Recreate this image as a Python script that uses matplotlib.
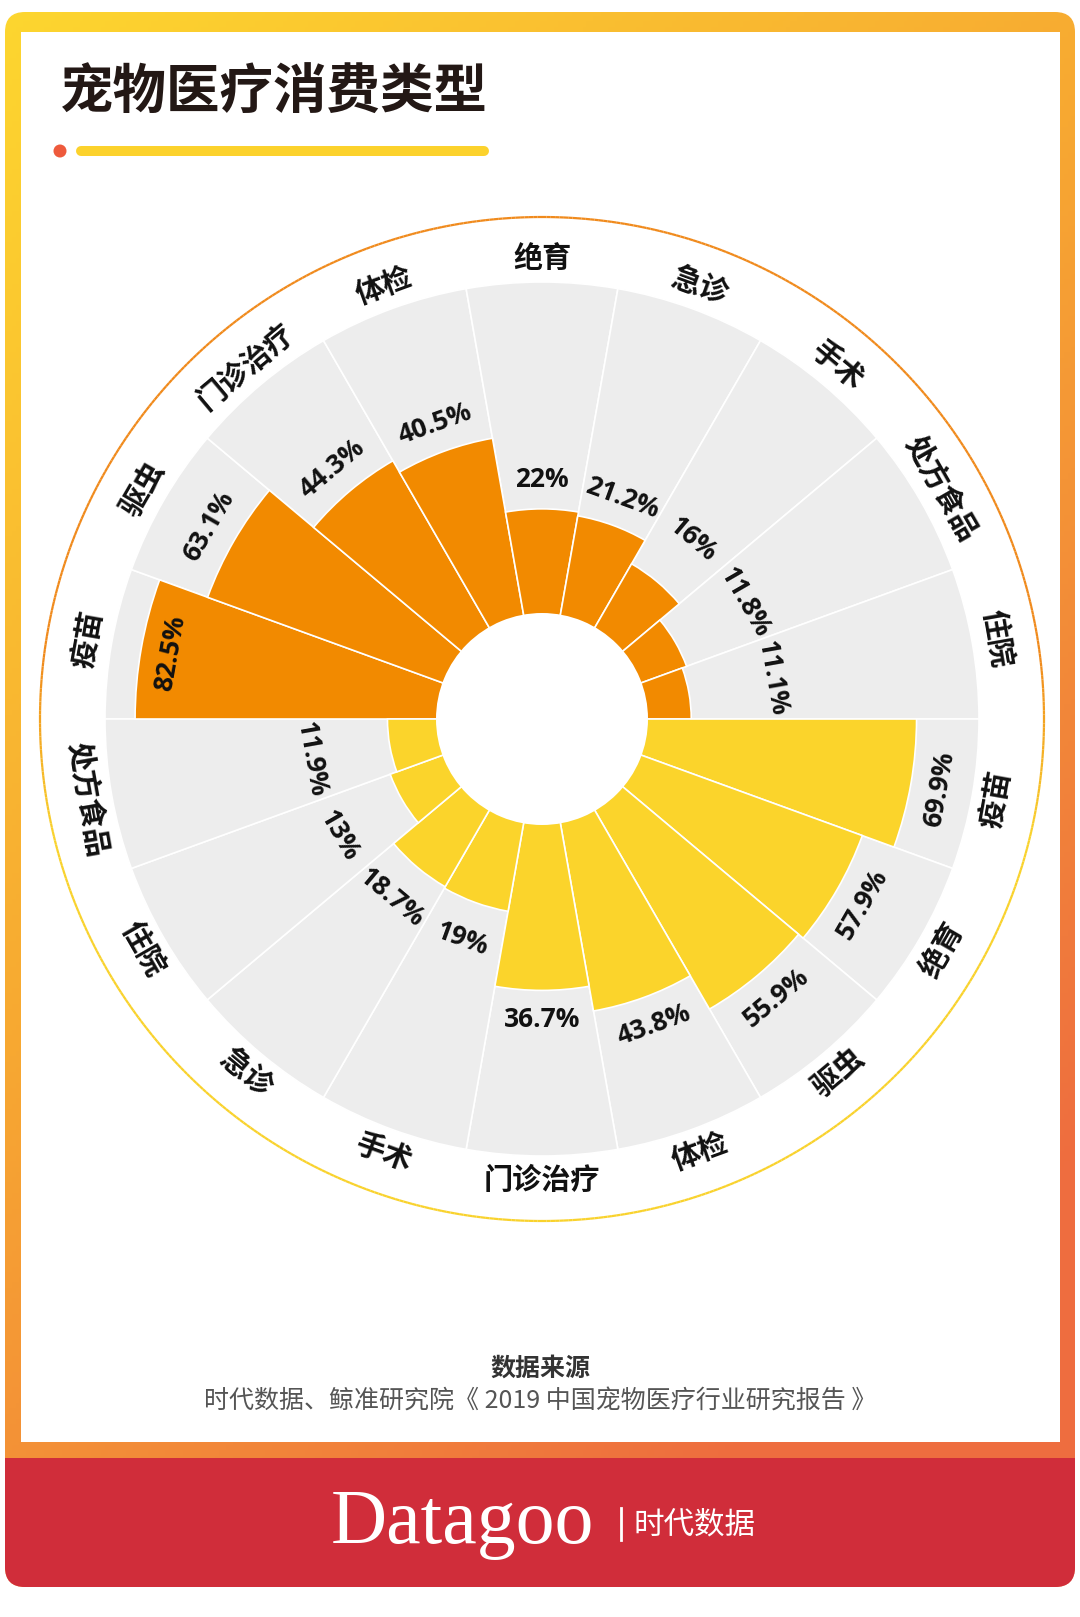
import numpy as np
import matplotlib.pyplot as plt
import matplotlib.colors as mcolors
from matplotlib.patches import FancyBboxPatch, Rectangle, Circle
from matplotlib.collections import LineCollection

plt.rcParams['font.family'] = ['Noto Sans CJK SC', 'DejaVu Sans']

# ---- data ----
dog_items = ["疫苗", "驱虫", "门诊治疗", "体检", "绝育", "急诊", "手术", "处方食品", "住院"]
dog_values = [82.5, 63.1, 44.3, 40.5, 22, 21.2, 16, 11.8, 11.1]
cat_items = ["疫苗", "绝育", "驱虫", "体检", "门诊治疗", "手术", "急诊", "住院", "处方食品"]
cat_values = [69.9, 57.9, 55.9, 43.8, 36.7, 19, 18.7, 13, 11.9]

title = "宠物医疗消费类型"
center_labels = ["宠物狗", "宠物猫"]
source_head = "数据来源"
source_text = "时代数据、鲸准研究院《 2019 中国宠物医疗行业研究报告 》"

# ---- styling ----
DOG = "#F28A00"
CAT = "#FBD42B"
GRAY = "#EDEDED"

W, H = 1080, 1617
fig = plt.figure(figsize=(W / 100, H / 100), dpi=100)
fig.patch.set_facecolor('white')

# background layer in pixel coordinates
bg = fig.add_axes([0, 0, 1, 1])
bg.set_xlim(0, W)
bg.set_ylim(H, 0)
bg.axis('off')

# gradient frame
fx0, fy0, fx1, fy1, rr = 5, 12, 1075, 1587, 20
frame = FancyBboxPatch((fx0 + rr, fy0 + rr), fx1 - fx0 - 2 * rr, fy1 - fy0 - 2 * rr,
                       boxstyle=f"round,pad={rr}", facecolor='none', edgecolor='none')
bg.add_patch(frame)
gx, gy = np.meshgrid(np.linspace(0, 1, 300), np.linspace(0, 1, 300))
grad = np.clip(0.45 * gx + 0.75 * gy, 0, 1)
cmap = mcolors.LinearSegmentedColormap.from_list("frame", ["#FDD62F", "#F7A832", "#EE6D3F"])
im = bg.imshow(grad, cmap=cmap, extent=(fx0, fx1, fy1, fy0), origin='upper',
               aspect='auto', zorder=0)
im.set_clip_path(frame)

red = Rectangle((fx0, 1458), fx1 - fx0, fy1 - 1458, facecolor="#D02D3A", edgecolor='none', zorder=1)
bg.add_patch(red)
red.set_clip_path(frame)

bg.add_patch(Rectangle((21, 32), 1039, 1410, facecolor='white', edgecolor='none', zorder=1))

# title and underline
bg.text(60, 93, title, fontsize=38.5, fontweight='black', color='#231815',
        ha='left', va='center', zorder=2)
bg.add_patch(Circle((60, 151), 6.5, facecolor='#EE5A3C', edgecolor='none', zorder=2))
bg.plot([81, 484], [151, 151], color='#FCD22C', linewidth=7.2, solid_capstyle='round', zorder=2)

# footer
bg.text(540, 1369, source_head, fontsize=18, fontweight='bold', color='#333333',
        ha='center', va='center', zorder=2)
bg.text(540, 1402, source_text, fontsize=18, color='#555555',
        ha='center', va='center', zorder=2)
bg.text(462, 1524, "Datagoo", family=['Liberation Serif', 'DejaVu Serif'], fontsize=56,
        color='white', ha='center', va='center', zorder=2)
bg.plot([621, 621], [1508, 1540], color='white', linewidth=2, zorder=2)
bg.text(695, 1525, "时代数据", fontsize=22, fontweight='light', color='white',
        ha='center', va='center', zorder=2)

# center labels
bg.text(540, 681, center_labels[0], fontsize=20, fontweight='bold', color=DOG,
        ha='center', va='center', zorder=10)
bg.text(540, 761, center_labels[1], fontsize=20, fontweight='bold', color="#F9C51F",
        ha='center', va='center', zorder=10)

# ---- polar rose ----
cx, cy, half = 542, 719, 525
k = 44.8  # px per sqrt unit


def px2v(px):
    return (px / k) ** 2


ax = fig.add_axes([(cx - half) / W, (H - cy - half) / H, 2 * half / W, 2 * half / H],
                  projection='polar')
ax.set_rscale('function', functions=(lambda r: np.sqrt(np.clip(r, 0, None)), lambda r: np.square(r)))
ax.set_ylim(0, px2v(half))
ax.set_theta_zero_location('W')
ax.set_theta_direction(-1)
ax.set_axis_off()
ax.patch.set_alpha(0)

items = dog_items + cat_items
values = dog_values + cat_values
n = len(items)
step = 2 * np.pi / n
thetas = np.arange(n) * step + step / 2

gray_px = 437
ax.bar(thetas, [px2v(gray_px)] * n, width=step, bottom=0, color=GRAY,
       edgecolor='white', linewidth=1.2, zorder=1)
ax.bar(thetas[:9], dog_values, width=step, bottom=0, color=DOG,
       edgecolor='white', linewidth=1.2, zorder=2)
ax.bar(thetas[9:], cat_values, width=step, bottom=0, color=CAT,
       edgecolor='white', linewidth=1.2, zorder=2)
ax.bar([0], [px2v(106)], width=2 * np.pi, bottom=0, color='white',
       edgecolor='none', zorder=3)

# outer ring, orange on top fading to yellow below
tt = np.linspace(0, 2 * np.pi, 721)
rv = px2v(502)
segs = [[(tt[j], rv), (tt[j + 1], rv)] for j in range(len(tt) - 1)]
mid = (tt[:-1] + tt[1:]) / 2
s = np.sin(mid)
frac = np.clip((0.12 - s) / 0.35, 0, 1)
c_or = np.array(mcolors.to_rgb("#F08A1C"))
c_ye = np.array(mcolors.to_rgb("#F9D22C"))
cols = [tuple(c_or * (1 - f) + c_ye * f) for f in frac]
lc = LineCollection(segs, colors=cols, linewidth=1.6, transform=ax.transData, zorder=4)
ax.add_collection(lc, autolim=False)

# labels
for i in range(n):
    th = thetas[i]
    phi = 180 - np.degrees(th)
    rot = phi - 90 if np.sin(np.radians(phi)) > 0 else phi + 90
    ax.text(th, px2v(461), items[i], rotation=rot, rotation_mode='anchor',
            ha='center', va='center', fontsize=21, fontweight='heavy', color='#111111', zorder=5)

    v = values[i]
    bar_px = k * np.sqrt(v)
    if bar_px + 30 > gray_px - 12:
        lab_px = bar_px - 30
    else:
        lab_px = max(bar_px + 29, 234)
    ax.text(th, px2v(lab_px), f"{v:g}%", rotation=rot, rotation_mode='anchor',
            ha='center', va='center', fontsize=19, fontweight='bold',
            family=['Open Sans', 'DejaVu Sans'], color='#111111', zorder=5)

fig.savefig("out.png", dpi=100, facecolor='white')
